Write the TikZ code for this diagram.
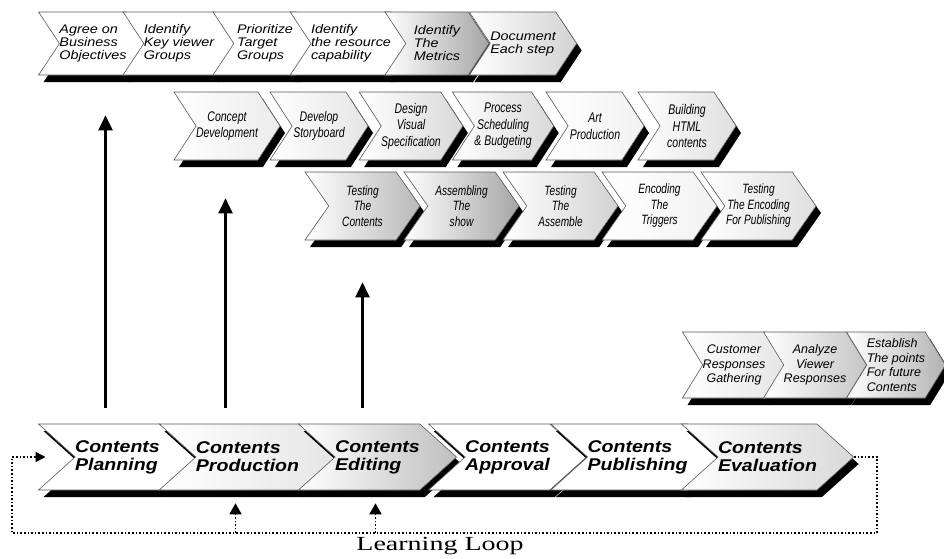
\documentclass[tikz,border=0pt]{standalone}
\usepackage{fontspec}
\setmainfont{Liberation Sans}
\newfontfamily\widesans[FakeStretch=1.15]{Liberation Sans}
\newfontfamily\narrowsans[FakeStretch=0.75]{Liberation Sans}
\newfontfamily\loopfont[FakeStretch=1.4]{Liberation Serif}
\usepackage{tikz}
\usetikzlibrary{shapes.symbols, arrows.meta, positioning, shadows}
\tikzset{
  chev/.style={signal, signal from=west, signal to=east, draw=black!65,
               line width=0.6pt, fill=white, inner sep=0pt,
               drop shadow={shadow xshift=5pt, shadow yshift=-7pt,
                            fill=black, opacity=1}},
  goal/.style={chev, minimum width=104pt, minimum height=63pt,
               signal pointer angle=113, align=left,
               font=\widesans\itshape\fontsize{12.5}{13}\selectfont},
  make/.style={chev, minimum width=98pt, minimum height=68pt,
               signal pointer angle=114, align=center,
               font=\narrowsans\itshape\fontsize{14}{16.5}\selectfont},
  check/.style={chev, minimum width=115pt, minimum height=68pt,
                signal pointer angle=110, align=center,
                font=\narrowsans\itshape\fontsize{13.5}{15.5}\selectfont},
  review/.style={chev, minimum width=98pt, minimum height=66pt,
                 signal pointer angle=117, align=center,
                 font=\itshape\fontsize{12.5}{14.5}\selectfont},
  phase/.style={chev, minimum width=149pt, minimum height=66pt,
                signal pointer angle=84, align=left,
                font=\widesans\bfseries\itshape\fontsize{17}{18}\selectfont},
  tint/.style={left color=white, right color=gray!#1},
  arrow/.style={-{Triangle[length=15pt, width=14pt]}, line width=2.2pt},
  feedback/.style={dotted, line width=1.6pt},
}

\begin{document}
\begin{tikzpicture}[x=1pt, y=-1pt]
  \useasboundingbox (0,0) rectangle (944,558);

  % planning tasks
  \node[goal] (agree) at (93,43.5) {Agree on\\Business\\Objectives};
  \node[goal] (viewer) at ([xshift=86pt]agree) {Identify\\Key viewer\\Groups};
  \node[goal] (target) at ([xshift=86pt]viewer) {Prioritize\\Target\\Groups};
  \node[goal] (resource) at ([xshift=86pt]target) {Identify\\the resource\\capability};
  \node[goal, tint=70] (metrics) at ([xshift=86pt]resource) {Identify\\The\\Metrics};
  \node[goal, tint=35] (document) at ([xshift=86pt]metrics) {Document\\Each step};

  % production tasks
  \node[make, tint=15] (concept) at (227,126) {Concept\\Development};
  \node[make, tint=20] (storyboard) at ([xshift=92pt]concept) {Develop\\Storyboard};
  \node[make, tint=30] (design) at ([xshift=92pt]storyboard) {Design\\Visual\\Specification};
  \node[make, tint=30] (schedule) at ([xshift=92pt]design) {Process\\Scheduling\\\& Budgeting};
  \node[make, tint=10] (art) at ([xshift=92pt]schedule) {Art\\Production};
  \node[make, tint=25] (html) at ([xshift=92pt]art) {Building\\HTML\\contents};

  % editing tasks
  \node[check, tint=55] (testcont) at (362.5,206) {Testing\\The\\Contents};
  \node[check, tint=70] (assemble) at ([xshift=99pt]testcont) {Assembling\\The\\show};
  \node[check, tint=35] (testasm) at ([xshift=99pt]assemble) {Testing\\The\\Assemble};
  \node[check, tint=10] (encode) at ([xshift=99pt]testasm) {Encoding\\The\\Triggers};
  \node[check, tint=25] (testenc) at ([xshift=99pt]encode) {Testing\\The Encoding\\For Publishing};

  % evaluation tasks
  \node[review, tint=20] (gather) at (734,365) {Customer\\Responses\\Gathering};
  \node[review, tint=45] (analyze) at ([xshift=81pt]gather) {Analyze\\Viewer\\Responses};
  \node[review, tint=60, align=left] (establish) at ([xshift=81pt]analyze) {Establish\\The points\\For future\\Contents};

  % main process
  \node[phase] (plan) at (117.5,457) {Contents\\Planning};
  \node[phase, tint=20] (prod) at ([xshift=130pt]plan) {Contents\\Production};
  \node[phase, tint=50] (edit) at ([xshift=130pt]prod) {Contents\\Editing};
  \node[phase] (approve) at ([xshift=130pt]edit) {Contents\\Approval};
  \node[phase] (publish) at ([xshift=130pt]approve) {Contents\\Publishing};
  \node[phase, tint=30] (eval) at ([xshift=130pt]publish) {Contents\\Evaluation};

  \draw[arrow, shorten <=16pt, shorten >=40pt]
    ([xshift=-12pt]plan.north) -- ([xshift=-12pt]plan.north |- agree.south);
  \draw[arrow, shorten <=16pt, shorten >=38pt]
    ([xshift=-22pt]prod.north) -- ([xshift=-22pt]prod.north |- concept.south);
  \draw[arrow, shorten <=16pt, shorten >=42pt]
    ([xshift=-15pt]edit.north) -- ([xshift=-15pt]edit.north |- testcont.south);

  % learning loop
  \coordinate (loopR) at (877,533);
  \coordinate (loopL) at (12,533);
  \draw[feedback, -{Triangle[length=10pt, width=10pt]}]
    (eval.east) -| (loopR) -- (loopL) |- ([xshift=-72pt]plan.center);
  \draw[feedback, -{Triangle[length=11pt, width=12pt]}]
    ([xshift=-12pt]prod.south |- loopL) -- ([xshift=-12pt, yshift=-13pt]prod.south);
  \draw[feedback, -{Triangle[length=11pt, width=12pt]}]
    ([xshift=-2pt]edit.south |- loopL) -- ([xshift=-2pt, yshift=-13pt]edit.south);
  \node[font=\loopfont\fontsize{20}{20}\selectfont] (looplabel) at (440,546)
    {Learning Loop};
\end{tikzpicture}
\end{document}
